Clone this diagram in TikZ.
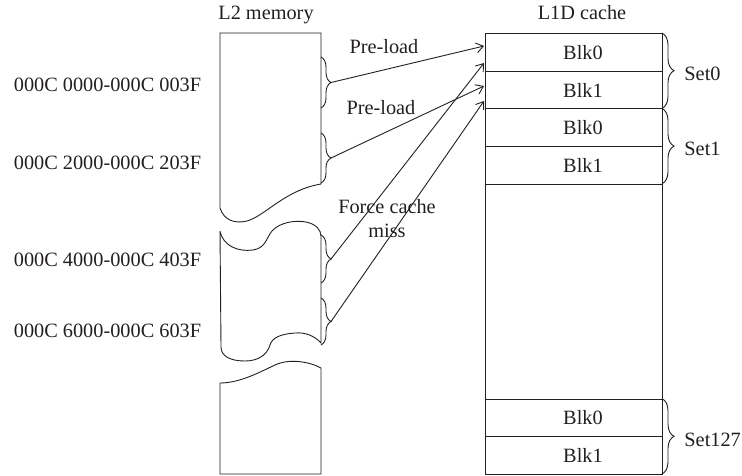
\documentclass[tikz,border=0pt]{standalone}
\usepackage{fontspec}
\setmainfont{Liberation Serif}
\usetikzlibrary{arrows.meta,decorations.pathreplacing,calc}
\definecolor{ink}{HTML}{231F20}
\begin{document}
\begin{tikzpicture}[x=1pt,y=-1pt,line width=0.9pt,color=ink,
  font=\fontsize{20.3}{23}\selectfont,
  rowbox/.style={draw,minimum width=177pt,minimum height=37.7pt,inner sep=0pt,anchor=north west},
  gapbox/.style={draw,minimum width=177pt,minimum height=214.8pt,inner sep=0pt,anchor=north west},
  txt/.style={anchor=base,inner sep=0pt},
  brc/.style={decorate,decoration={brace,amplitude=#1}},
  arr/.style={-{Straight Barb[length=7pt,width=10pt]}}]
\useasboundingbox (0,0) rectangle (742,475);

% titles
\node[txt] (t2) at (266,19.5) {L2 memory};
\node[txt] (t1) at (582,19.5) {L1D cache};

% L2 memory pieces
\draw (321,184) -- (321,33) -- (220,33) -- (220,208)
  .. controls (224,220) and (234,224) .. (247,221)
  .. controls (265,216) and (285,190) .. (321,184);
\draw (220,231) .. controls (223,246) and (238,252) .. (253,250)
  .. controls (266,248) and (266,238) .. (272,231)
  .. controls (280,222) and (296,220) .. (306,222)
  .. controls (316,224) and (321,230) .. (321,236) -- (321,343)
  .. controls (315,336) and (305,332) .. (295,333)
  .. controls (280,334) and (272,338) .. (270,345)
  .. controls (267,355) and (258,361) .. (245,361)
  .. controls (230,361) and (221,356) .. (221,347) -- (220,231);
\draw (220,474) -- (220,383)
  .. controls (240,383) and (260,372) .. (275,365)
  .. controls (290,358) and (310,362) .. (321,368) -- (321,474) -- cycle;

% address labels
\node[txt] (ad0) at (107.5,91) {000C 0000-000C 003F};
\node[txt] (ad1) at (107.5,169) {000C 2000-000C 203F};
\node[txt] (ad2) at (107.5,266) {000C 4000-000C 403F};
\node[txt] (ad3) at (107.5,337) {000C 6000-000C 603F};

% braces on L2
\draw[brc=10pt] (321,57) -- (321,108);
\draw[brc=10pt] (321,133) -- (321,183);
\draw[brc=10pt] (321,235) -- (321,283);
\draw[brc=10pt] (321,298) -- (321,345);
\coordinate (b0) at (331,82.5);
\coordinate (b1) at (331,158);
\coordinate (b2) at (331,259);
\coordinate (b3) at (331,321.5);

% L1D cache rows
\node[rowbox,label={[xshift=9pt]center:Blk0}] (r0) at (485,33) {};
\node[rowbox,label={[xshift=9pt]center:Blk1}] (r1) at (485,70.7) {};
\node[rowbox,label={[xshift=9pt]center:Blk0}] (r2) at (485,108.4) {};
\node[rowbox,label={[xshift=9pt]center:Blk1}] (r3) at (485,146.1) {};
\node[gapbox] (gap) at (485,183.8) {};
\node[rowbox,label={[xshift=9pt]center:Blk0}] (r4) at (485,398.6) {};
\node[rowbox,label={[xshift=9pt]center:Blk1}] (r5) at (485,436.3) {};

% set braces
\draw[brc=12pt] (662,33) -- (662,108.4);
\draw[brc=12pt] (662,108.4) -- (662,183.8);
\draw[brc=12pt] (662,398.6) -- (662,474);
\node[txt,anchor=base west] (s0) at (684,80.5) {Set0};
\node[txt,anchor=base west] (s1) at (684,155) {Set1};
\node[txt,anchor=base west] (s2) at (684,446) {Set127};

% arrow targets
\coordinate (a0) at (484,46);
\coordinate (a1) at (484,63);
\coordinate (a2) at (484,86);
\coordinate (a3) at (484,101);

\draw[arr] (b0) -- (a0);
\draw[arr] (b1) -- (a2);
\draw[arr] (b2) -- (a1);
\draw[arr] (b3) -- (a3);

% arrow labels
\node[txt] (p0) at (384,53) {Pre-load};
\node[txt] (p1) at (381,114) {Pre-load};
\node[txt] (f0) at (387,213) {Force cache};
\node[txt] (f1) at (387,237) {miss};
\end{tikzpicture}
\end{document}
